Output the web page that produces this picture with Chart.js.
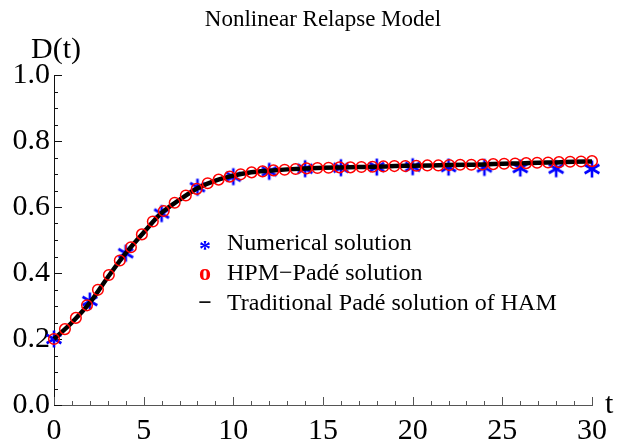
<!DOCTYPE html>
<html>
<head>
<meta charset="utf-8">
<script src="https://cdn.jsdelivr.net/npm/chart.js@4.4.1/dist/chart.umd.min.js"></script>
<style>
  html, body { margin: 0; padding: 0; background: #fff; }
  #wrap { width: 617px; height: 443px; }
</style>
</head>
<body>
<div id="wrap"><canvas id="chart" width="617" height="443"></canvas></div>
<script>
// Numerical solution (blue stars)
const numT = [0, 2, 4, 6, 8, 10, 12, 14, 16, 18, 20, 22, 24, 26, 28, 30];
const numD = [0.200, 0.315, 0.460, 0.580, 0.660, 0.692, 0.708, 0.716, 0.719, 0.721, 0.722, 0.721, 0.720, 0.718, 0.716, 0.715];

// HPM-Pade solution (red circles)
const hpmT = [0, 0.61, 1.22, 1.84, 2.45, 3.06, 3.67, 4.29, 4.90, 5.51, 6.12, 6.73, 7.35, 7.96, 8.57, 9.18, 9.80,
  10.41, 11.02, 11.63, 12.24, 12.86, 13.47, 14.08, 14.69, 15.31, 15.92, 16.53, 17.14, 17.76, 18.37, 18.98, 19.59,
  20.20, 20.82, 21.43, 22.04, 22.65, 23.27, 23.88, 24.49, 25.10, 25.71, 26.33, 26.94, 27.55, 28.16, 28.78, 29.39, 30];
const hpmD = [0.200, 0.230, 0.264, 0.302, 0.349, 0.394, 0.438, 0.478, 0.517, 0.556, 0.588, 0.613, 0.635, 0.655, 0.672, 0.683, 0.692,
  0.699, 0.705, 0.708, 0.711, 0.713, 0.715, 0.717, 0.718, 0.719, 0.720, 0.720, 0.721, 0.722, 0.723, 0.724, 0.724,
  0.725, 0.726, 0.726, 0.727, 0.728, 0.728, 0.729, 0.730, 0.731, 0.732, 0.733, 0.734, 0.735, 0.736, 0.737, 0.738, 0.739];

// Traditional Pade solution of HAM (black line)
const hamT = [0, 1, 2, 3, 4, 5, 6, 7, 8, 9, 10, 11, 12, 13, 14, 15, 16, 17, 18, 19, 20, 21, 22, 23, 24, 25, 26, 27, 28, 29, 30];
const hamD = [0.200, 0.250, 0.310, 0.387, 0.460, 0.523, 0.582, 0.622, 0.657, 0.680, 0.695, 0.705, 0.710, 0.714, 0.717, 0.719,
  0.720, 0.721, 0.722, 0.724, 0.725, 0.726, 0.727, 0.728, 0.729, 0.731, 0.732, 0.734, 0.735, 0.737, 0.738];

// axis ticks
const xTicks = [0, 5, 10, 15, 20, 25, 30];
const xMinor = [1, 2, 3, 4, 6, 7, 8, 9, 11, 12, 13, 14, 16, 17, 18, 19, 21, 22, 23, 24, 26, 27, 28, 29];
const yTicks = [0, 0.2, 0.4, 0.6, 0.8, 1.0];
const yTickLabels = ["0.0", "0.2", "0.4", "0.6", "0.8", "1.0"];
const yMinor = [0.05, 0.1, 0.15, 0.25, 0.3, 0.35, 0.45, 0.5, 0.55, 0.65, 0.7, 0.75, 0.85, 0.9, 0.95];

const legendItems = [
  { sym: "*", color: "#0000ff", text: "Numerical solution" },
  { sym: "o", color: "#ff0000", text: "HPM\u2212Pad\u00e9 solution" },
  { sym: "\u2212", color: "#000000", text: "Traditional Pad\u00e9 solution of HAM" }
];

const SERIF = '"Liberation Serif", "DejaVu Serif", serif';

// six armed asterisk used as point marker
function makeStar(r, lw, color) {
  const c = document.createElement("canvas");
  const s = Math.ceil(2 * r + lw + 2);
  c.width = s; c.height = s;
  const g = c.getContext("2d");
  g.strokeStyle = color;
  g.lineWidth = lw;
  g.lineCap = "butt";
  const cx = s / 2, cy = s / 2;
  [90, 30, 150].forEach(a => {
    const rad = a * Math.PI / 180;
    g.beginPath();
    g.moveTo(cx - r * Math.cos(rad), cy - r * Math.sin(rad));
    g.lineTo(cx + r * Math.cos(rad), cy + r * Math.sin(rad));
    g.stroke();
  });
  return c;
}
const starImg = makeStar(8.5, 2.6, "#0000ff");

const toPts = (ts, ds) => ts.map((t, i) => ({ x: t, y: ds[i] }));

const decor = {
  id: "decor",
  beforeDatasetsDraw(chart) {
    const ctx = chart.ctx;
    const xs = chart.scales.x, ys = chart.scales.y;
    const left = chart.chartArea.left, bottom = chart.chartArea.bottom;
    ctx.save();
    ctx.lineWidth = 1;
    ctx.strokeStyle = "#555";
    xTicks.concat(xMinor).forEach(v => {
      const px = Math.round(xs.getPixelForValue(v)) + 0.5;
      const len = xTicks.includes(v) ? 8 : 4;
      ctx.beginPath(); ctx.moveTo(px, bottom); ctx.lineTo(px, bottom - len); ctx.stroke();
    });
    ctx.strokeStyle = "#111";
    yTicks.concat(yMinor).forEach(v => {
      const py = Math.round(ys.getPixelForValue(v)) + 0.5;
      const len = yTicks.includes(v) ? 8 : 4;
      ctx.beginPath(); ctx.moveTo(left, py); ctx.lineTo(left + len, py); ctx.stroke();
    });
    ctx.restore();
  },
  afterDraw(chart) {
    const ctx = chart.ctx;
    const area = chart.chartArea;
    ctx.save();
    ctx.fillStyle = "#000";
    // title
    ctx.font = "23px " + SERIF;
    ctx.textAlign = "center";
    ctx.textBaseline = "alphabetic";
    ctx.fillText("Nonlinear Relapse Model", (area.left + area.right) / 2, 26);
    // axis names
    ctx.font = "30px " + SERIF;
    ctx.fillText("D(t)", 56, 58);
    ctx.textAlign = "left";
    ctx.fillText("t", 605, 413);
    // legend
    const baselines = [250, 280, 310];
    legendItems.forEach((it, i) => {
      ctx.fillStyle = it.color;
      ctx.font = "bold 24px " + SERIF;
      ctx.textAlign = "center";
      ctx.fillText(it.sym, 205, baselines[i] + (i === 0 ? 6 : 0));
      ctx.fillStyle = "#000";
      ctx.font = "24px " + SERIF;
      ctx.textAlign = "left";
      ctx.fillText(it.text, 227, baselines[i]);
    });
    ctx.restore();
  }
};

new Chart(document.getElementById("chart"), {
  type: "scatter",
  data: {
    datasets: [
      {
        label: "Numerical solution",
        data: toPts(numT, numD),
        pointStyle: starImg,
        showLine: false,
        clip: false,
        order: 3
      },
      {
        label: "Traditional Padé solution of HAM",
        data: toPts(hamT, hamD),
        showLine: true,
        borderColor: "#000",
        borderWidth: 4.5,
        pointRadius: 0,
        cubicInterpolationMode: "monotone",
        clip: false,
        order: 2
      },
      {
        label: "HPM-Padé solution",
        data: toPts(hpmT, hpmD),
        showLine: false,
        pointStyle: "circle",
        pointRadius: 5.3,
        borderColor: "#ff0000",
        backgroundColor: "rgba(0,0,0,0)",
        borderWidth: 1.5,
        clip: false,
        order: 1
      }
    ]
  },
  options: {
    responsive: false,
    animation: false,
    layout: { padding: { top: 75, right: 25, left: 0, bottom: 0 } },
    plugins: {
      legend: { display: false },
      tooltip: { enabled: false },
      title: { display: false }
    },
    scales: {
      x: {
        type: "linear",
        min: 0, max: 30,
        afterBuildTicks: s => { s.ticks = xTicks.map(v => ({ value: v })); },
        afterFit: s => { s.height = 38; },
        ticks: { color: "#000", font: { family: SERIF, size: 30 }, padding: 8, maxRotation: 0, callback: v => String(v) },
        grid: { display: false, drawTicks: false },
        border: { display: true, color: "#555", width: 1 }
      },
      y: {
        type: "linear",
        min: 0, max: 1,
        afterBuildTicks: s => { s.ticks = yTicks.map(v => ({ value: v })); },
        afterFit: s => { s.width = 54; },
        ticks: { color: "#000", font: { family: SERIF, size: 30 }, padding: 4, callback: (v, i) => yTickLabels[i] },
        grid: { display: false, drawTicks: false },
        border: { display: true, color: "#111", width: 1 }
      }
    }
  },
  plugins: [decor]
});
</script>
</body>
</html>
